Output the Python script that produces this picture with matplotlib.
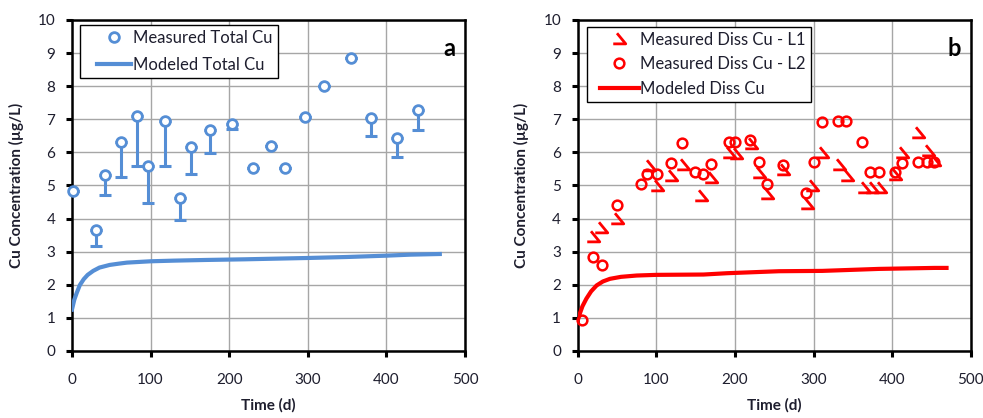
import matplotlib
matplotlib.use('Agg')
import matplotlib.pyplot as plt
from matplotlib.path import Path
from matplotlib.legend_handler import HandlerLine2D
import numpy as np

plt.rcParams['font.family'] = ['Lato', 'DejaVu Sans']

# panel a - total Cu
t_tot = [1, 30, 42, 62, 83, 97, 118, 138, 152, 175, 203, 230, 253, 271, 296, 321, 355, 380, 413, 440]
cu_tot = [4.82, 3.66, 5.33, 6.32, 7.09, 5.6, 6.96, 4.63, 6.16, 6.68, 6.85, 5.52, 6.18, 5.52, 7.06, 8.0, 8.85, 7.03, 6.43, 7.28]
cu_tot_low = [4.82, 3.16, 4.72, 5.27, 5.6, 4.47, 5.6, 3.95, 5.35, 5.98, 6.7, 5.52, 6.18, 5.52, 7.06, 8.0, 8.85, 6.5, 5.87, 6.67]
t_mod_tot = [0, 3, 6, 10, 15, 20, 27, 35, 48, 60, 70, 85, 100, 130, 170, 220, 260, 300, 350, 400, 430, 468]
cu_mod_tot = [1.25, 1.55, 1.75, 1.99, 2.17, 2.3, 2.42, 2.52, 2.6, 2.64, 2.67, 2.69, 2.71, 2.73, 2.75, 2.77, 2.79, 2.81, 2.84, 2.88, 2.91, 2.93]

# panel b - dissolved Cu
t_l1 = [20, 30, 50, 91, 101, 119, 134, 157, 170, 193, 201, 220, 231, 241, 261, 292, 298, 311, 332, 342, 364, 374, 385, 404, 413, 433, 446, 453]
cu_l1 = [3.43, 3.73, 4.0, 5.58, 4.98, 5.28, 5.63, 4.68, 5.23, 5.98, 5.95, 6.25, 5.38, 4.73, 5.48, 4.43, 4.98, 5.98, 5.63, 5.3, 4.93, 4.93, 4.93, 5.33, 5.98, 6.58, 6.03, 5.75]
t_l2 = [5, 20, 31, 50, 80, 88, 101, 119, 133, 149, 159, 170, 192, 200, 219, 231, 241, 261, 290, 300, 311, 331, 341, 362, 372, 383, 404, 413, 433, 444, 453]
cu_l2 = [0.93, 2.85, 2.6, 4.42, 5.04, 5.36, 5.36, 5.68, 6.28, 5.4, 5.35, 5.65, 6.32, 6.32, 6.36, 5.72, 5.05, 5.63, 4.76, 5.7, 6.93, 6.96, 6.96, 6.31, 5.41, 5.41, 5.41, 5.68, 5.72, 5.72, 5.72]
t_mod_diss = [0, 3, 6, 11, 17, 24, 32, 41, 55, 75, 100, 160, 190, 256, 311, 383, 454, 469]
cu_mod_diss = [0.92, 1.15, 1.35, 1.58, 1.8, 1.98, 2.1, 2.18, 2.24, 2.28, 2.3, 2.31, 2.35, 2.41, 2.42, 2.48, 2.51, 2.51]

blue = '#558ED5'
red = '#FF0000'
txt = '#1E1E2E'

# odd marker used for L1 (short diagonal + bottom bar)
l1_marker = Path([(-0.2, 0.5), (0.5, -0.35), (-0.5, -0.35)],
                 [Path.MOVETO, Path.LINETO, Path.LINETO])

fig = plt.figure(figsize=(9.83, 4.18), dpi=100)
ax1 = fig.add_axes([0.0732, 0.1603, 0.3998, 0.7919])
ax2 = fig.add_axes([0.5877, 0.1603, 0.4000, 0.7919])

# panel a
ax1.errorbar(t_tot, cu_tot, yerr=[np.array(cu_tot) - np.array(cu_tot_low), np.zeros(len(cu_tot))],
             fmt='none', ecolor=blue, elinewidth=2.2, capsize=4, capthick=2.2, zorder=3)
ax1.plot(t_tot, cu_tot, 'o', ms=7, mfc='white', mec=blue, mew=2, zorder=4,
         clip_on=False, label='Measured Total Cu')
ax1.plot(t_mod_tot, cu_mod_tot, '-', color=blue, lw=3, zorder=3, label='Modeled Total Cu')

# panel b
ax2.plot(t_l1, cu_l1, linestyle='none', marker=l1_marker, ms=9, mfc='none', mec=red, mew=2,
         zorder=4, label='Measured Diss Cu - L1')
ax2.plot(t_l2, cu_l2, 'o', ms=7, mfc='none', mec=red, mew=1.8, zorder=4,
         clip_on=False, label='Measured Diss Cu - L2')
ax2.plot(t_mod_diss, cu_mod_diss, '-', color=red, lw=3, zorder=3, label='Modeled Diss Cu')

legend_opts = {ax1: ((0.02, 0.985), 0.68, 0.72), ax2: ((0.024, 0.979), 0.5, 0.45)}

for ax, letter in [(ax1, 'a'), (ax2, 'b')]:
    ax.set_xlim(0, 500)
    ax.set_ylim(0, 10)
    ax.set_xticks(range(0, 501, 100))
    ax.set_yticks(range(0, 11))
    ax.grid(True, color='#A6A6A6', lw=1)
    ax.set_axisbelow(True)
    for s in ax.spines.values():
        s.set_linewidth(1.8)
        s.set_color('black')
    ax.tick_params(axis='both', direction='out', length=4, width=2.2, colors='black',
                   labelcolor=txt, labelsize=11)
    ax.tick_params(axis='x', pad=12)
    ax.tick_params(axis='y', pad=8)
    ax.set_xlabel('Time (d)', fontsize=11, fontweight='bold', color=txt, labelpad=8)
    ax.set_ylabel('Cu Concentration (µg/L)', fontsize=11, fontweight='bold', color=txt, labelpad=10)
    ax.text(0.975, 0.95, letter, transform=ax.transAxes, ha='right', va='top',
            fontsize=17, fontweight='bold', color='black')
    anchor, spacing, xpad = legend_opts[ax]
    leg = ax.legend(loc='upper left', bbox_to_anchor=anchor, fontsize=12, frameon=True,
                    fancybox=False, edgecolor='black', framealpha=1, borderpad=0.3,
                    handlelength=2.8, handletextpad=0.1, labelspacing=spacing, borderaxespad=0,
                    handler_map={plt.Line2D: HandlerLine2D(xpad=xpad)})
    leg.get_frame().set_linewidth(1)
    for t in leg.get_texts():
        t.set_color(txt)

fig.savefig('out.png', dpi=100)
